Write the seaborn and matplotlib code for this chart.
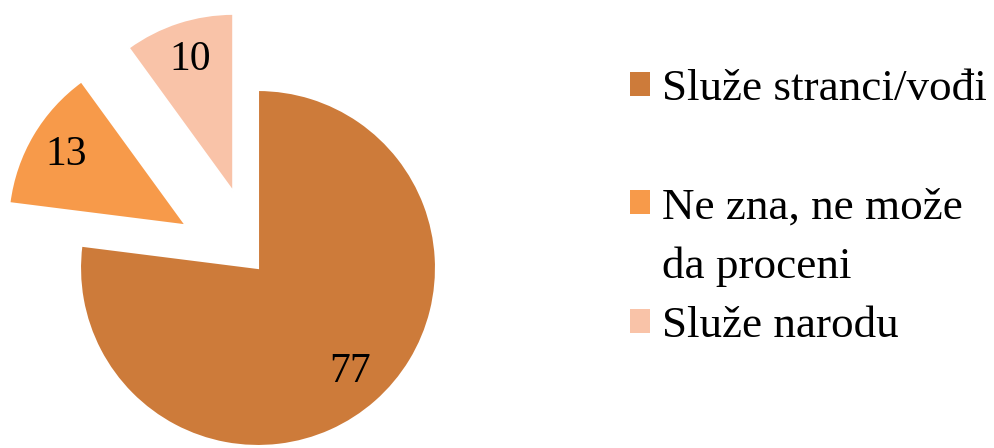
import matplotlib
matplotlib.use("Agg")
import matplotlib.pyplot as plt
from matplotlib.patches import Patch
import seaborn as sns

# data
categories = ["Služe stranci/vođi", "Ne zna, ne može\nda proceni", "Služe narodu"]
values = [77, 13, 10]
colors = ["#CD7B3A", "#F79A4A", "#F9C3A8"]
explode = [0, 0.47, 0.45]

sns.set_theme(style="white")
plt.rcParams['font.family'] = ['Liberation Serif', 'DejaVu Serif']
plt.rcParams['text.color'] = 'black'

fig = plt.figure(figsize=(9.95, 4.48), dpi=100)
# pie centre ~ (258, 268) px, radius ~178 px
r_px = 178.
ax = fig.add_axes([0, 0, 520 / 995, 1])
wedges, texts, autotexts = ax.pie(
    values, colors=colors, explode=explode, startangle=90, counterclock=False,
    autopct=lambda p: "%d" % round(p * sum(values) / 100.), pctdistance=0.78,
    wedgeprops=dict(edgecolor="white", linewidth=1.5),
    textprops=dict(fontsize=30, color="black"))
ax.set_xlim(-258 / r_px, (520 - 258) / r_px)
ax.set_ylim(-180 / r_px, 268 / r_px)
ax.set_aspect("equal")
ax.axis("off")

# legend, second label wrapped over two lines with the marker on the first line
blank = Patch(facecolor="none", edgecolor="none")
handles, labels = [], []
for i, (w, c) in enumerate(zip(wedges, categories)):
    parts = c.split("\n")
    handles.append(w)
    labels.append(parts[0])
    for extra in parts[1:]:
        handles.append(blank)
        labels.append(extra)
    if i == 0:
        handles.append(blank)
        labels.append("")

leg = fig.legend(handles, labels, loc="upper left", bbox_to_anchor=(0.633, 0.845),
                 frameon=False, fontsize=32.5, handlelength=0.44, handleheight=0.44,
                 handletextpad=0.28, labelspacing=0.42, borderpad=0, borderaxespad=0,
                 labelcolor="black")
for h in leg.legend_handles:
    h.set_edgecolor("none")

fig.savefig("out.png", dpi=100)
